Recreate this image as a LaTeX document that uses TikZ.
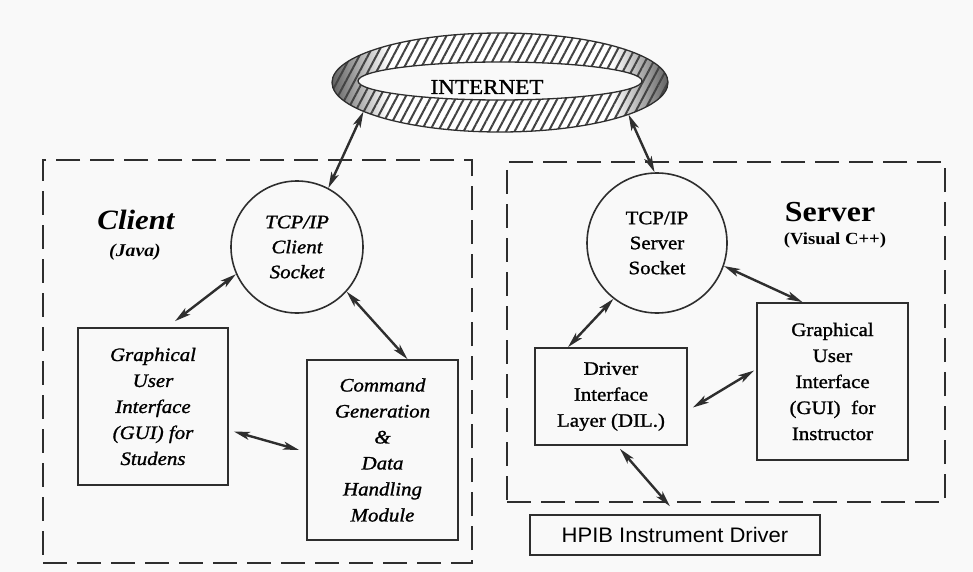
\documentclass[tikz,border=0pt]{standalone}
\usepackage{fontspec}
\setmainfont[FakeStretch=1.1]{Liberation Serif}
\newfontfamily\boxfont[FakeStretch=1.1, FakeBold=1.2]{Liberation Serif}
\newfontfamily\hpibfont[FakeStretch=1.05]{Liberation Sans}
\usetikzlibrary{arrows.meta,shapes.geometric,patterns.meta,calc}
\definecolor{ink}{gray}{0.18}
\definecolor{paper}{gray}{0.975}

\tikzset{
  sock/.style={circle, draw=ink, line width=1.6pt, align=center, inner sep=0pt,
    font=\boxfont\fontsize{19}{25}\selectfont},
  cbox/.style={draw=ink, line width=1.7pt, align=center, inner sep=0pt,
    font=\boxfont\fontsize{19}{26}\selectfont\itshape},
  sbox/.style={draw=ink, line width=1.7pt, align=center, inner sep=0pt,
    font=\boxfont\fontsize{19}{26}\selectfont},
  zone/.style={draw=ink, line width=2.6pt, dash pattern=on 24pt off 10pt,
    inner sep=0pt},
  link/.style={draw=ink, line width=2.4pt,
    {Stealth[length=16pt,width=8pt,inset=4pt]}-{Stealth[length=16pt,width=8pt,inset=4pt]}},
}

\begin{document}
\begin{tikzpicture}[x=1pt,y=-1pt]
\useasboundingbox (0,0) rectangle (973,572);
\fill[paper] (0,0) rectangle (973,572);

% ---- Internet ring ----
\node[ellipse, minimum width=336pt, minimum height=99pt, inner sep=0pt] (net) at (500,82.5) {};
\begin{scope}[even odd rule]
  \clip (500,82.5) ellipse [x radius=168pt, y radius=49.5pt]
        (500,81) ellipse [x radius=142pt, y radius=19pt];
  \fill[white] (320,20) rectangle (680,140);
  \shade[left color=ink!75, right color=white] (332,20) rectangle (388,140);
  \shade[left color=white, right color=ink!75] (612,20) rectangle (668,140);
  \fill[pattern={Lines[angle=62, distance=7.5pt, line width=2pt]}, pattern color=ink!90]
    (320,20) rectangle (680,140);
\end{scope}
\draw[ink, line width=1.3pt] (500,82.5) ellipse [x radius=168pt, y radius=49.5pt];
\draw[ink, line width=1.3pt] (500,81) ellipse [x radius=142pt, y radius=19pt];
\node[font=\boxfont\fontsize{21}{21}\selectfont] (nettext) at (487,87) {INTERNET};

% ---- dashed zones ----
\node[zone, minimum width=429pt, minimum height=403pt] (clientzone) at (257.5,361.5) {};
\node[zone, minimum width=438pt, minimum height=340pt] (serverzone) at (726,332) {};

% ---- client side ----
\node[font=\fontsize{28}{28}\selectfont\bfseries\itshape] (clientlbl) at (136,220) {Client};
\node[font=\fontsize{18}{18}\selectfont\bfseries\itshape] (javalbl) at (135,252) {(Java)};
\node[sock, minimum size=132pt, font=\boxfont\fontsize{19}{25}\selectfont\itshape] (csock) at (297,247) {TCP/IP\\Client\\Socket};
\node[cbox, minimum width=150pt, minimum height=157pt] (cgui) at (153,406.5)
  {Graphical\\User\\Interface\\(GUI) for\\Studens};
\node[cbox, minimum width=151pt, minimum height=180pt] (ccmd) at (382.5,450)
  {Command\\Generation\\\&\\Data\\Handling\\Module};

% ---- server side ----
\node[font=\fontsize{29}{29}\selectfont\bfseries] (serverlbl) at (830,212) {Server};
\node[font=\fontsize{17}{17}\selectfont\bfseries] (vclbl) at (835,240) {(Visual C++)};
\node[sock, minimum size=140pt] (ssock) at (657,243) {TCP/IP\\Server\\Socket};
\node[sbox, minimum width=152pt, minimum height=97pt] (dil) at (611,396.5)
  {Driver\\Interface\\Layer (DIL.)};
\node[sbox, minimum width=151pt, minimum height=157pt] (sgui) at (832.5,381.5)
  {Graphical\\User\\Interface\\(GUI)\ \ for\\Instructor};
\node[draw=ink, line width=1.5pt, inner sep=0pt, minimum width=290pt, minimum height=40pt,
  font=\hpibfont\fontsize{21}{21}\selectfont] (hpib) at (675,535) {HPIB Instrument Driver};

% ---- connectors ----
\draw[link] (csock.62) -- (net.192);
\draw[link] (csock.204) -- ($(cgui.north)+(22,-6)$);
\draw[link] (csock.-42) -- ($(ccmd.north)+(25,0)$);
\draw[link] ($(cgui.east)+(5,25)$) -- ($(ccmd.west)+(-7,0)$);

\draw[link] (ssock.92) -- (net.-14);
\draw[link] (ssock.232) -- ($(dil.north)+(-43,0)$);
\draw[link] (ssock.-19) -- ($(sgui.north)+(-30,0)$);
\draw[link] ($(dil.east)+(5,11)$) -- ($(sgui.west)+(-2,-11)$);
\draw[link] ($(dil.south)+(9,3)$) -- ($(hpib.north)+(-5,-8)$);
\end{tikzpicture}
\end{document}
